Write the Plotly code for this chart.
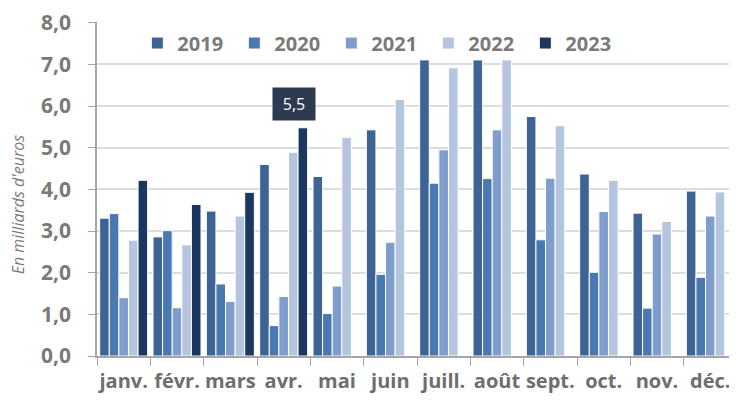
import plotly.graph_objects as go

months = ["janv.", "févr.", "mars", "avr.", "mai", "juin", "juill.", "août", "sept.", "oct.", "nov.", "déc."]
v2019 = [3.31, 2.86, 3.48, 4.60, 4.31, 5.43, 7.11, 7.11, 5.75, 4.37, 3.43, 3.96]
v2020 = [3.42, 3.01, 1.73, 0.73, 1.02, 1.96, 4.15, 4.26, 2.79, 2.01, 1.15, 1.89]
v2021 = [1.40, 1.16, 1.31, 1.43, 1.68, 2.73, 4.95, 5.43, 4.27, 3.47, 2.93, 3.36]
v2022 = [2.78, 2.67, 3.36, 4.89, 5.25, 6.16, 6.92, 7.11, 5.53, 4.22, 3.23, 3.94]
v2023 = [4.22, 3.64, 3.93, 5.48, None, None, None, None, None, None, None, None]
series_names = ["2019", "2020", "2021", "2022", "2023"]
series_colors = ["#3d6494", "#4a78b0", "#7f9dca", "#b5c4df", "#1b365f"]
y_ticks = [0, 1, 2, 3, 4, 5, 6, 7, 8]
y_tick_labels = ["0,0", "1,0", "2,0", "3,0", "4,0", "5,0", "6,0", "7,0", "8,0"]
highlight_month = "avr."
highlight_value = 5.5
highlight_label = "5,5"

font_family = "'Open Sans', sans-serif"

fig = go.Figure()
for name, vals, col in zip(series_names, [v2019, v2020, v2021, v2022, v2023], series_colors):
    fig.add_trace(go.Bar(
        x=months, y=vals, name=name,
        marker=dict(color=col, line=dict(color="white", width=1)),
    ))

# the page body adds an 8px offset, so the figure is sized to fit the window
fig.update_layout(
    width=729, height=393,
    margin=dict(l=89, r=0, t=14, b=45),
    paper_bgcolor="white", plot_bgcolor="white",
    barmode="group", bargap=0.1, bargroupgap=0,
    font=dict(family=font_family, color="#7a7a7a"),
    showlegend=True,
    legend=dict(
        orientation="h", x=0.063, y=0.937, xanchor="left", yanchor="middle",
        font=dict(size=20, color="#7a7a7a", family=font_family, weight="bold"),
        entrywidth=52, entrywidthmode="pixels",
        itemwidth=30, bgcolor="rgba(0,0,0,0)", traceorder="normal",
    ),
    xaxis=dict(
        type="category", showgrid=False, showline=True, linecolor="#a6a6a6", linewidth=1.5,
        ticks="outside", tickson="boundaries", ticklen=8, tickcolor="#a6a6a6",
        tickfont=dict(size=20, color="#6e6e6e", family=font_family, weight="bold"),
        tickangle=0, ticklabelstandoff=6, automargin=False,
    ),
    yaxis=dict(
        range=[0, 8.02], tickvals=y_ticks, ticktext=y_tick_labels,
        showgrid=True, gridcolor="#dcdcdc", gridwidth=1.5,
        showline=True, linecolor="#a6a6a6", linewidth=1.5,
        ticks="outside", ticklen=7, tickcolor="#a6a6a6",
        tickfont=dict(size=21, color="#7a7a7a", family=font_family, weight="bold"),
        ticklabelstandoff=13, zeroline=False, automargin=False,
        ticklabeloverflow="allow",
    ),
    annotations=[
        dict(
            text="En milliards d'euros", textangle=-90, xref="paper", yref="paper",
            x=-0.123, y=0.455, xanchor="center", yanchor="middle", showarrow=False,
            font=dict(size=16, color="#7a7a7a", family=font_family, style="italic"),
        ),
        dict(
            text=highlight_label, x=highlight_month, y=highlight_value, xref="x", yref="y",
            xshift=10, yshift=23, showarrow=False, bgcolor="#2e3a4f",
            font=dict(size=16, color="white", family=font_family),
            borderpad=5, width=32,
        ),
    ],
)

fig.write_html("out.html")
